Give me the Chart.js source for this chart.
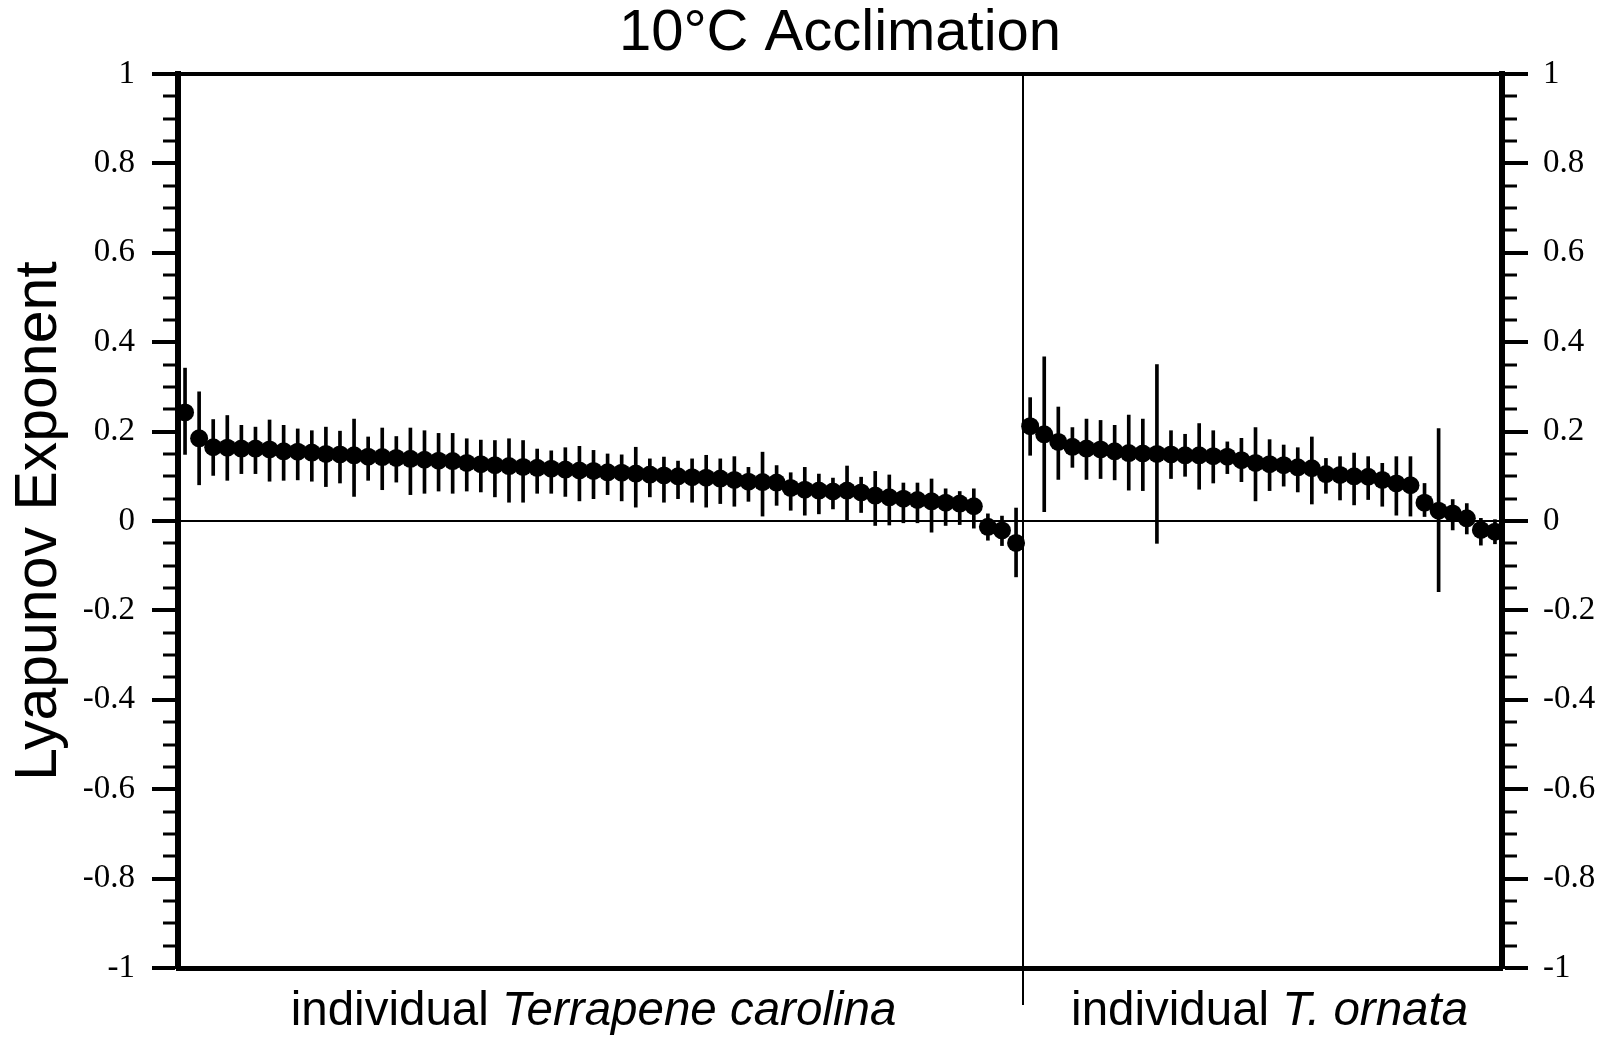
<!DOCTYPE html>
<html>
<head>
    <title>10°C Acclimation</title>
    <script src="https://cdn.jsdelivr.net/npm/chart.js"></script>
    <style>
        body { margin: 0; background: #fff; overflow: hidden; }
        #wrap { width: 1617px; height: 1042px; }
    </style>
</head>
<body>
    <div id="wrap"><canvas id="lyapunovChart"></canvas></div>
    <script>
        // Lyapunov exponent per individual (dot), with upper / lower end of its error bar
        const carolinaMean = [0.243, 0.185, 0.165, 0.164, 0.162, 0.162, 0.160, 0.156, 0.155, 0.153,
                              0.150, 0.149, 0.147, 0.144, 0.143, 0.141, 0.139, 0.137, 0.135, 0.134,
                              0.130, 0.127, 0.125, 0.123, 0.121, 0.119, 0.117, 0.115, 0.113, 0.112,
                              0.109, 0.108, 0.106, 0.104, 0.102, 0.100, 0.098, 0.097, 0.095, 0.092,
                              0.088, 0.087, 0.086, 0.074, 0.070, 0.068, 0.066, 0.068, 0.064, 0.057,
                              0.053, 0.050, 0.047, 0.044, 0.041, 0.039, 0.033, -0.013, -0.021, -0.049];
        const carolinaHigh = [0.342, 0.289, 0.227, 0.236, 0.214, 0.210, 0.226, 0.214, 0.206, 0.202,
                              0.210, 0.201, 0.228, 0.188, 0.208, 0.189, 0.208, 0.202, 0.196, 0.196,
                              0.184, 0.181, 0.180, 0.184, 0.180, 0.161, 0.157, 0.164, 0.167, 0.158,
                              0.150, 0.148, 0.165, 0.139, 0.143, 0.134, 0.139, 0.147, 0.139, 0.144,
                              0.120, 0.154, 0.124, 0.108, 0.120, 0.105, 0.096, 0.123, 0.098, 0.111,
                              0.103, 0.085, 0.085, 0.094, 0.072, 0.066, 0.072, 0.016, 0.011, 0.029];
        const carolinaLow = [0.149, 0.081, 0.102, 0.091, 0.106, 0.106, 0.089, 0.091, 0.092, 0.089,
                             0.077, 0.085, 0.055, 0.091, 0.070, 0.087, 0.059, 0.062, 0.067, 0.062,
                             0.067, 0.065, 0.054, 0.042, 0.042, 0.062, 0.062, 0.055, 0.045, 0.050,
                             0.059, 0.045, 0.031, 0.054, 0.042, 0.050, 0.042, 0.031, 0.039, 0.033,
                             0.044, 0.011, 0.035, 0.024, 0.013, 0.016, 0.027, 0.001, 0.019, -0.010,
                             -0.009, -0.004, -0.004, -0.025, -0.010, -0.008, -0.016, -0.043, -0.055, -0.125];

        const ornataMean = [0.212, 0.194, 0.177, 0.166, 0.162, 0.160, 0.156, 0.152, 0.151, 0.150,
                            0.149, 0.147, 0.147, 0.145, 0.144, 0.136, 0.130, 0.127, 0.125, 0.120,
                            0.118, 0.105, 0.103, 0.100, 0.099, 0.092, 0.084, 0.080, 0.041, 0.023,
                            0.017, 0.006, -0.020, -0.024];
        const ornataHigh = [0.276, 0.367, 0.255, 0.209, 0.228, 0.225, 0.214, 0.237, 0.228, 0.350,
                            0.202, 0.194, 0.218, 0.202, 0.177, 0.185, 0.209, 0.182, 0.170, 0.164,
                            0.188, 0.140, 0.144, 0.152, 0.144, 0.129, 0.144, 0.144, 0.084, 0.207,
                            0.048, 0.039, 0.006, 0.003];
        const ornataLow = [0.147, 0.021, 0.093, 0.120, 0.093, 0.095, 0.092, 0.069, 0.068, -0.050,
                           0.095, 0.100, 0.071, 0.085, 0.106, 0.088, 0.045, 0.068, 0.078, 0.065,
                           0.038, 0.062, 0.047, 0.036, 0.048, 0.033, 0.013, 0.011, 0.010, -0.158,
                           -0.020, -0.029, -0.054, -0.051];

        const groupNames = ['Terrapene carolina', 'T. ornata'];
        const yMajorTicks = [1, 0.8, 0.6, 0.4, 0.2, 0, -0.2, -0.4, -0.6, -0.8, -1];

        const individuals = carolinaMean.map((_, i) => 'T. carolina ' + (i + 1))
            .concat(ornataMean.map((_, i) => 'T. ornata ' + (i + 1)));
        const means = carolinaMean.concat(ornataMean);
        const highs = carolinaHigh.concat(ornataHigh);
        const errorBars = carolinaLow.concat(ornataLow).map((lo, i) => [lo, highs[i]]);
        const dividerIndex = carolinaMean.length;
        const groupLabelAt = [29, 77];

        const isMajor = v => yMajorTicks.includes(Math.round(v * 100) / 100);
        const none = 'rgba(0,0,0,0)';

        // species names under the axis: "individual " upright, the name in italics
        const groupLabels = {
            id: 'groupLabels',
            afterDraw(chart) {
                const { ctx, scales: { x } } = chart;
                const y = chart.chartArea.bottom + 57;
                ctx.save();
                ctx.fillStyle = '#000';
                ctx.textAlign = 'left';
                ctx.textBaseline = 'alphabetic';
                groupNames.forEach((name, g) => {
                    const regular = '47.5px "Liberation Sans"';
                    const italic = 'italic 47.5px "Liberation Sans"';
                    ctx.font = regular;
                    const w1 = ctx.measureText('individual ').width;
                    ctx.font = italic;
                    const w2 = ctx.measureText(name).width;
                    const left = x.getPixelForValue(groupLabelAt[g]) - (w1 + w2) / 2;
                    ctx.font = regular;
                    ctx.fillText('individual ', left, y);
                    ctx.font = italic;
                    ctx.fillText(name, left + w1, y);
                });
                ctx.restore();
            }
        };

        const yAxis = (position, width, padding, onChart) => ({
            type: 'linear',
            position: position,
            min: -1,
            max: 1,
            afterFit: s => { s.width = width; },
            ticks: {
                stepSize: 0.05,
                autoSkip: false,
                padding: padding,
                color: '#000',
                font: { family: 'Liberation Serif', size: 33 },
                callback: v => isMajor(v) ? String(Math.round(v * 10) / 10) : ''
            },
            grid: {
                drawOnChartArea: onChart,
                color: c => (c.tick && Math.abs(c.tick.value) < 1e-9) ? '#000' : none,
                lineWidth: 2,
                tickLength: 26,
                tickColor: '#000',
                tickWidth: c => (c.tick && isMajor(c.tick.value)) ? 4 : 3,
                // minor ticks: only the half next to the frame is drawn
                tickBorderDash: c => (c.tick && isMajor(c.tick.value)) ? [] :
                    (position === 'left' ? [0, 11, 12, 100] : [12, 100])
            },
            border: { color: '#000', width: 6 }
        });

        new Chart(document.getElementById('lyapunovChart'), {
            type: 'bar',
            data: {
                labels: individuals,
                datasets: [
                    {
                        type: 'line',
                        label: 'Lyapunov exponent',
                        data: means,
                        showLine: false,
                        pointRadius: 9,
                        pointBackgroundColor: '#000',
                        pointBorderWidth: 0,
                        xAxisID: 'x',
                        yAxisID: 'y'
                    },
                    {
                        type: 'bar',
                        label: 'error',
                        data: errorBars,
                        backgroundColor: '#000',
                        borderWidth: 0,
                        barThickness: 3,
                        xAxisID: 'x',
                        yAxisID: 'y'
                    }
                ]
            },
            options: {
                responsive: true,
                maintainAspectRatio: false,
                animation: false,
                layout: { padding: { top: 0, right: 0, bottom: 37, left: 0 } },
                plugins: {
                    legend: { display: false },
                    tooltip: { enabled: false },
                    title: {
                        display: true,
                        fullSize: false,
                        text: '10°C Acclimation',
                        color: '#000',
                        font: { family: 'Liberation Sans', size: 58, weight: 'normal', lineHeight: 1 },
                        padding: { top: 5, bottom: 11 }
                    }
                },
                scales: {
                    x: {
                        type: 'category',
                        offset: true,
                        ticks: { display: false, autoSkip: false },
                        grid: {
                            offset: true,
                            color: c => c.index === dividerIndex ? '#000' : none,
                            tickColor: c => c.index === dividerIndex ? '#000' : none,
                            lineWidth: 2,
                            tickWidth: 2,
                            tickLength: 37
                        },
                        border: { color: '#000', width: 5 }
                    },
                    xTop: {
                        type: 'category',
                        position: 'top',
                        display: true,
                        offset: true,
                        ticks: { display: false },
                        grid: { display: false, drawTicks: false },
                        border: { color: '#000', width: 4 }
                    },
                    y: Object.assign(yAxis('left', 178, 17, true), {
                        title: {
                            display: true,
                            text: 'Lyapunov Exponent',
                            color: '#000',
                            font: { family: 'Liberation Sans', size: 59, lineHeight: 1 },
                            padding: { top: 10, bottom: 0 }
                        }
                    }),
                    y2: yAxis('right', 115, 15, false)
                }
            },
            plugins: [groupLabels]
        });
    </script>
</body>
</html>
